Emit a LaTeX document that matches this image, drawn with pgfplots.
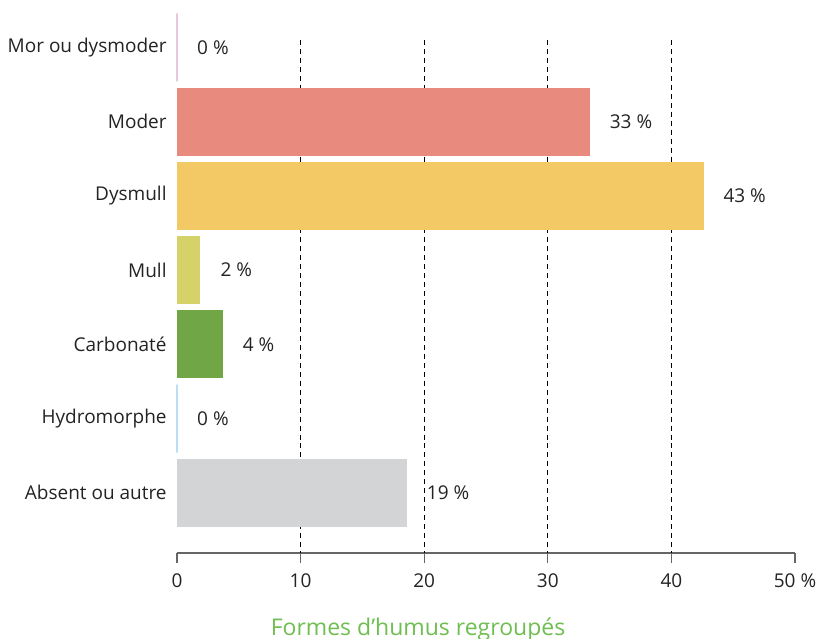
\documentclass[border=0pt]{standalone}
\usepackage{fontspec}
\setmainfont{Open Sans}
\usepackage{pgfplots}
\pgfplotsset{compat=1.18}
\definecolor{txt}{RGB}{35,35,35}
\definecolor{cmor}{RGB}{232,200,222}
\definecolor{cmoder}{RGB}{232,138,126}
\definecolor{cdysmull}{RGB}{243,201,101}
\definecolor{cmull}{RGB}{214,210,106}
\definecolor{ccarb}{RGB}{112,166,70}
\definecolor{chydro}{RGB}{185,222,245}
\definecolor{cabsent}{RGB}{211,212,214}
\definecolor{cxlab}{RGB}{110,190,80}
\begin{document}
\begin{tikzpicture}
\begin{axis}[
  scale only axis, width=309bp, height=256.5bp,
  xbar, bar width=34bp, bar shift=0pt,
  xmin=0, xmax=50, ymin=-0.1, ymax=6.81, y dir=reverse,
  clip=false,
  axis lines*=left,
  y axis line style={draw=none},
  x axis line style={draw=black!60, line width=0.7pt},
  xtick={0,10,20,30,40,50},
  xticklabels={0,10,20,30,40,50 \%},
  tick align=outside,
  x tick style={draw=black!60, line width=0.7pt},
  major tick length=5bp,
  ytick={0,...,6},
  yticklabels={Mor ou dysmoder,Moder,Dysmull,Mull,Carbonaté,Hydromorphe,Absent ou autre},
  y tick style={draw=none},
  yticklabel style={font=\fontsize{9.5bp}{11bp}\selectfont, text=txt, inner sep=0pt, xshift=0bp},
  xticklabel style={font=\fontsize{9.5bp}{11bp}\selectfont, text=txt, yshift=-2bp},
  /pgf/number format/assume math mode=true,
  extra x ticks={10,20,30,40},
  extra x tick labels={},
  extra x tick style={xmajorgrids=true, major tick length=0pt,
    grid style={black, dashed, line width=0.5pt, dash pattern=on 2.5pt off 2pt}},
  xlabel={Formes d’humus regroupés},
  xlabel style={at={(rel axis cs:0.39,0)}, anchor=north, yshift=-29bp,
    font=\fontsize{11.5bp}{13bp}\selectfont, text=cxlab},
  point meta=explicit symbolic,
  nodes near coords,
  nodes near coords style={font=\fontsize{9.5bp}{11bp}\selectfont, text=txt, anchor=west, xshift=6.5bp},
]
\addplot[draw=cmor, line width=0.6pt, fill=none] coordinates {(0,0) [0 \%]};
\addplot[draw=none, fill=cmoder] coordinates {(33.4,1) [33 \%]};
\addplot[draw=none, fill=cdysmull] coordinates {(42.6,2) [43 \%]};
\addplot[draw=none, fill=cmull] coordinates {(1.9,3) [2 \%]};
\addplot[draw=none, fill=ccarb] coordinates {(3.7,4) [4 \%]};
\addplot[draw=chydro, line width=0.6pt, fill=none] coordinates {(0,5) [0 \%]};
\addplot[draw=none, fill=cabsent] coordinates {(18.6,6) [19 \%]};
\end{axis}
\pgfresetboundingbox
\path[use as bounding box] (-88.5bp,-43bp) rectangle (325.5bp,276.5bp);
\end{tikzpicture}
\end{document}
